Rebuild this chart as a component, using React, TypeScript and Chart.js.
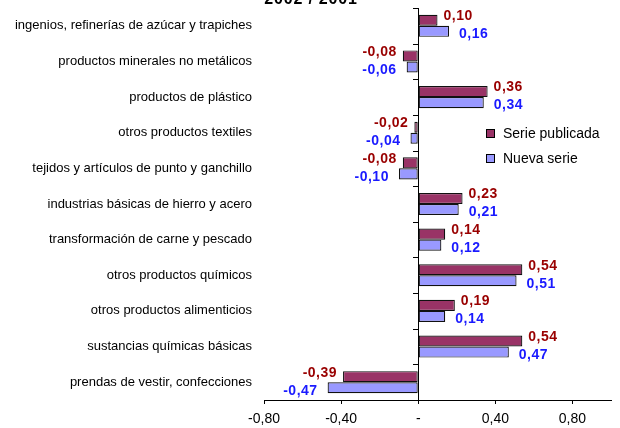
import React, { useEffect, useRef } from "react";
import { Chart, registerables } from "chart.js";

Chart.register(...registerables);

const titleText = "2002 / 2001";
const categories = [
  "ingenios, refinerías de azúcar y trapiches",
  "productos minerales no metálicos",
  "productos de plástico",
  "otros productos textiles",
  "tejidos y artículos de punto y ganchillo",
  "industrias básicas de hierro y acero",
  "transformación de carne y pescado",
  "otros productos químicos",
  "otros productos alimenticios",
  "sustancias químicas básicas",
  "prendas de vestir, confecciones",
];
const seriePublicada = [0.1, -0.08, 0.36, -0.02, -0.08, 0.23, 0.14, 0.54, 0.19, 0.54, -0.39];
const nuevaSerie = [0.16, -0.06, 0.34, -0.04, -0.1, 0.21, 0.12, 0.51, 0.14, 0.47, -0.47];
const xTickValues = [-0.8, -0.4, 0, 0.4, 0.8];
const seriesNames = ["Serie publicada", "Nueva serie"];

const FONT = "'Liberation Sans', Arial, sans-serif";
const fmt = (v: number) => (v === 0 ? "-" : v.toFixed(2).replace(".", ","));

const extrasPlugin = {
  id: "extras",
  afterDatasetsDraw(chart: any) {
    const ctx = chart.ctx as CanvasRenderingContext2D;
    const ys = chart.scales.y;
    const xs = chart.scales.x;
    const x0 = xs.getPixelForValue(0);
    // category tick marks on zero axis
    const step = ys.getPixelForValue(1) - ys.getPixelForValue(0);
    const start = ys.getPixelForValue(0) - step / 2;
    ctx.save();
    ctx.strokeStyle = "#000";
    ctx.lineWidth = 1;
    ctx.beginPath();
    for (let i = 0; i <= categories.length; i++) {
      const y = Math.round(start + i * step) + 0.5;
      ctx.moveTo(Math.round(x0) - 5, y);
      ctx.lineTo(Math.round(x0) + 0.5, y);
    }
    ctx.stroke();

    // data labels
    const colors = ["#990000", "#1a1aff"];
    const dy = [-4, 3];
    const dx = [6, 10];
    (ctx as any).letterSpacing = "0.5px";
    ctx.font = `bold 14px ${FONT}`;
    ctx.textBaseline = "middle";
    chart.data.datasets.forEach((ds: any, di: number) => {
      const meta = chart.getDatasetMeta(di);
      meta.data.forEach((bar: any, i: number) => {
        const v = ds.data[i];
        ctx.fillStyle = colors[di];
        if (v >= 0) {
          ctx.textAlign = "left";
          ctx.fillText(fmt(v), bar.x + dx[di], bar.y + dy[di]);
        } else {
          ctx.textAlign = "right";
          ctx.fillText(fmt(v), bar.x - dx[di], bar.y + dy[di]);
        }
      });
    });

    // title (mostly cut off at top)
    (ctx as any).letterSpacing = "0.8px";
    ctx.font = `bold 16px ${FONT}`;
    ctx.fillStyle = "#000";
    ctx.textAlign = "center";
    ctx.textBaseline = "alphabetic";
    ctx.fillText(titleText, chart.width / 2 + 1, 4);

    // legend
    (ctx as any).letterSpacing = "0px";
    ctx.font = `14px ${FONT}`;
    ctx.textAlign = "left";
    ctx.textBaseline = "middle";
    const lx = 486;
    const lys = [133, 158];
    chart.data.datasets.forEach((ds: any, di: number) => {
      const ly = lys[di];
      ctx.fillStyle = ds.backgroundColor;
      ctx.fillRect(lx, ly - 4, 8, 8);
      ctx.strokeStyle = "#000";
      ctx.strokeRect(lx + 0.5, ly - 3.5, 8, 8);
      ctx.fillStyle = "#000";
      ctx.fillText(ds.label, lx + 17, ly + 1);
    });
    ctx.restore();
  },
};

export default function App() {
  const ref = useRef<HTMLCanvasElement | null>(null);
  useEffect(() => {
    if (!ref.current) return;
    const chart = new Chart(ref.current, {
      type: "bar",
      data: {
        labels: categories,
        datasets: [
          {
            label: seriesNames[0],
            data: seriePublicada,
            backgroundColor: "#993366",
            borderColor: "#111",
            borderWidth: 1.2,
            borderSkipped: false,
          },
          {
            label: seriesNames[1],
            data: nuevaSerie,
            backgroundColor: "#9999ff",
            borderColor: "#111",
            borderWidth: 1.2,
            borderSkipped: false,
          },
        ],
      },
      options: {
        indexAxis: "y",
        animation: false,
        responsive: false,
        maintainAspectRatio: false,
        layout: { padding: { top: 8, right: 9, left: 0, bottom: 0 } },
        datasets: { bar: { categoryPercentage: 0.62, barPercentage: 1.0 } },
        plugins: {
          legend: { display: false },
          title: { display: false },
          tooltip: { enabled: false },
        },
        scales: {
          x: {
            type: "linear",
            min: -0.8,
            max: 1.0,
            afterBuildTicks: (scale: any) => {
              scale.ticks = xTickValues.map((v) => ({ value: v }));
            },
            afterFit: (scale: any) => {
              scale.height = 28;
              scale.paddingLeft = 0;
              scale.paddingRight = 0;
            },
            border: { display: true, color: "#000", width: 1 },
            grid: {
              drawOnChartArea: true,
              drawTicks: true,
              tickLength: 4,
              tickColor: "#000",
              color: (c: any) => (c.tick && c.tick.value === 0 ? "#000" : "rgba(0,0,0,0)"),
            },
            ticks: {
              color: "#000",
              font: { family: FONT, size: 14 },
              padding: 7,
              callback: (v: any) => fmt(Number(v)),
            },
          },
          y: {
            type: "category",
            afterFit: (scale: any) => {
              scale.width = 264;
              scale.paddingTop = 0;
              scale.paddingBottom = 0;
            },
            border: { display: false },
            grid: { display: false, drawTicks: false },
            ticks: {
              color: "#000",
              font: { family: FONT, size: 13 },
              padding: 12,
              autoSkip: false,
            },
          },
        },
      },
      plugins: [extrasPlugin],
    } as any);
    return () => chart.destroy();
  }, []);
  return (
    <div style={{ position: "fixed", left: 0, top: 0, width: 620, height: 428, background: "#fff" }}>
      <canvas ref={ref} width={620} height={428} style={{ display: "block", width: 620, height: 428 }} />
    </div>
  );
}
